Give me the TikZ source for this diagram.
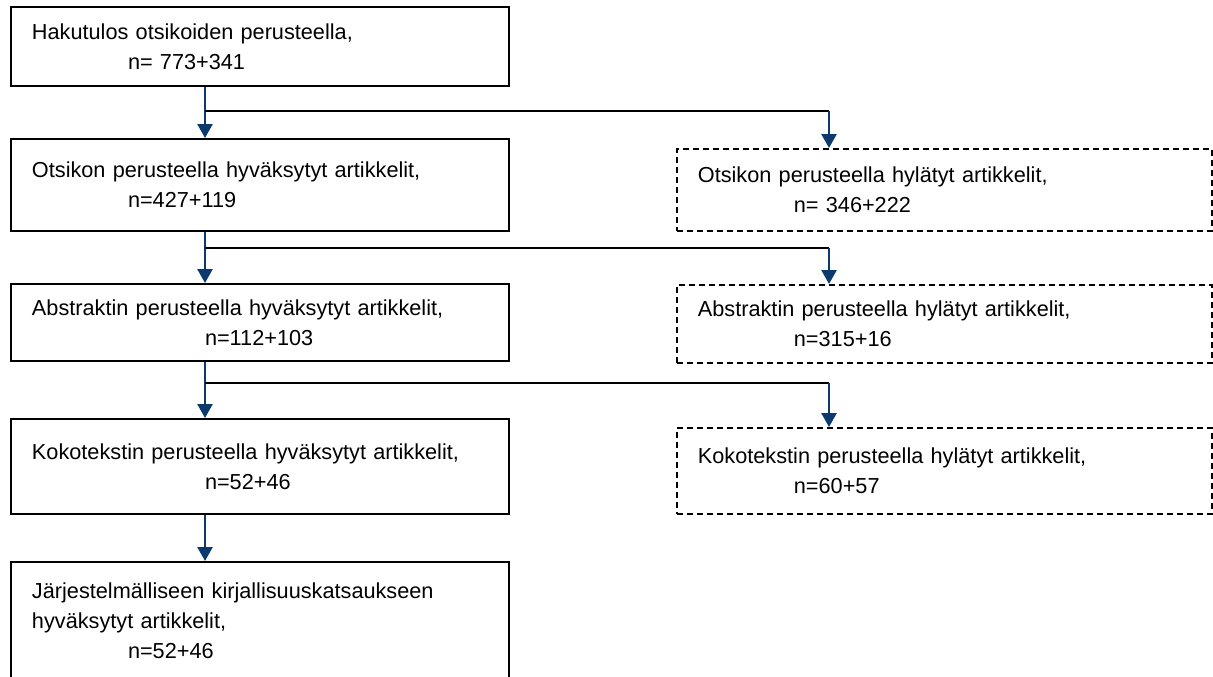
\documentclass[tikz,border=0pt]{standalone}
\usepackage{fontspec}
\setmainfont{Liberation Sans}
\usetikzlibrary{arrows.meta}

\definecolor{flowblue}{RGB}{12,58,110}

\tikzset{
	okbox/.style={draw, line width=1pt, anchor=north west, minimum width=249pt,
		text width=228pt, inner xsep=10.5pt, align=left,
		font=\fontsize{10.85}{15}\selectfont},
	nobox/.style={okbox, dash pattern=on 3pt off 2pt, line width=0.9pt,
		minimum width=267.5pt, text width=246.5pt},
	flow/.style={draw=flowblue, line width=1.3pt, -{Triangle[width=7.5pt,length=7pt]}},
	branch/.style={draw=black, line width=0.8pt}
}

\begin{document}
\begin{tikzpicture}[x=0.5pt, y=-0.5pt]
		\clip (0, 0) rectangle (1213, 676);

		% vasen sarake
		\node[okbox, minimum height=39.5pt] (haku) at (10, 6)
			{Hakutulos otsikoiden perusteella,\\\hspace*{48pt}n= 773+341};
		\node[okbox, minimum height=46pt] (otsok) at (10, 138)
			{Otsikon perusteella hyväksytyt artikkelit,\\\hspace*{48pt}n=427+119};
		\node[okbox, minimum height=38.5pt] (absok) at (10, 283)
			{Abstraktin perusteella hyväksytyt artikkelit,\\\hspace*{86.5pt}n=112+103};
		\node[okbox, minimum height=47.5pt] (kokok) at (10, 418)
			{Kokotekstin perusteella hyväksytyt artikkelit,\\\hspace*{86.5pt}n=52+46};
		\node[okbox, minimum height=59pt] (jarj) at (10, 561)
			{Järjestelmälliseen kirjallisuuskatsaukseen\\hyväksytyt artikkelit,\\\hspace*{48pt}n=52+46};

		% oikea sarake
		\node[nobox, minimum height=41pt] (otshyl) at (676, 148)
			{Otsikon perusteella hylätyt artikkelit,\\\hspace*{48pt}n= 346+222};
		\node[nobox, minimum height=39pt] (abshyl) at (676, 284)
			{Abstraktin perusteella hylätyt artikkelit,\\\hspace*{48pt}n=315+16};
		\node[nobox, minimum height=43pt] (kokhyl) at (676, 427)
			{Kokotekstin perusteella hylätyt artikkelit,\\\hspace*{48pt}n=60+57};

		% haarakohdat
		\coordinate (S1) at (205, 111);
		\coordinate (S2) at (205, 248);
		\coordinate (S3) at (205, 383);
		\coordinate (R) at (829, 0);

		\draw[flow] (haku.south -| S1) -- (otsok.north -| S1);
		\draw[flow] (otsok.south -| S2) -- (absok.north -| S2);
		\draw[flow] (absok.south -| S3) -- (kokok.north -| S3);
		\draw[flow] (kokok.south -| S3) -- (jarj.north -| S3);

		\draw[branch] (S1) -- (S1 -| R);
		\draw[branch] (S2) -- (S2 -| R);
		\draw[branch] (S3) -- (S3 -| R);

		\draw[flow] (S1 -| R) -- (otshyl.north -| R);
		\draw[flow] (S2 -| R) -- (abshyl.north -| R);
		\draw[flow] (S3 -| R) -- (kokhyl.north -| R);
	\end{tikzpicture}
\end{document}
